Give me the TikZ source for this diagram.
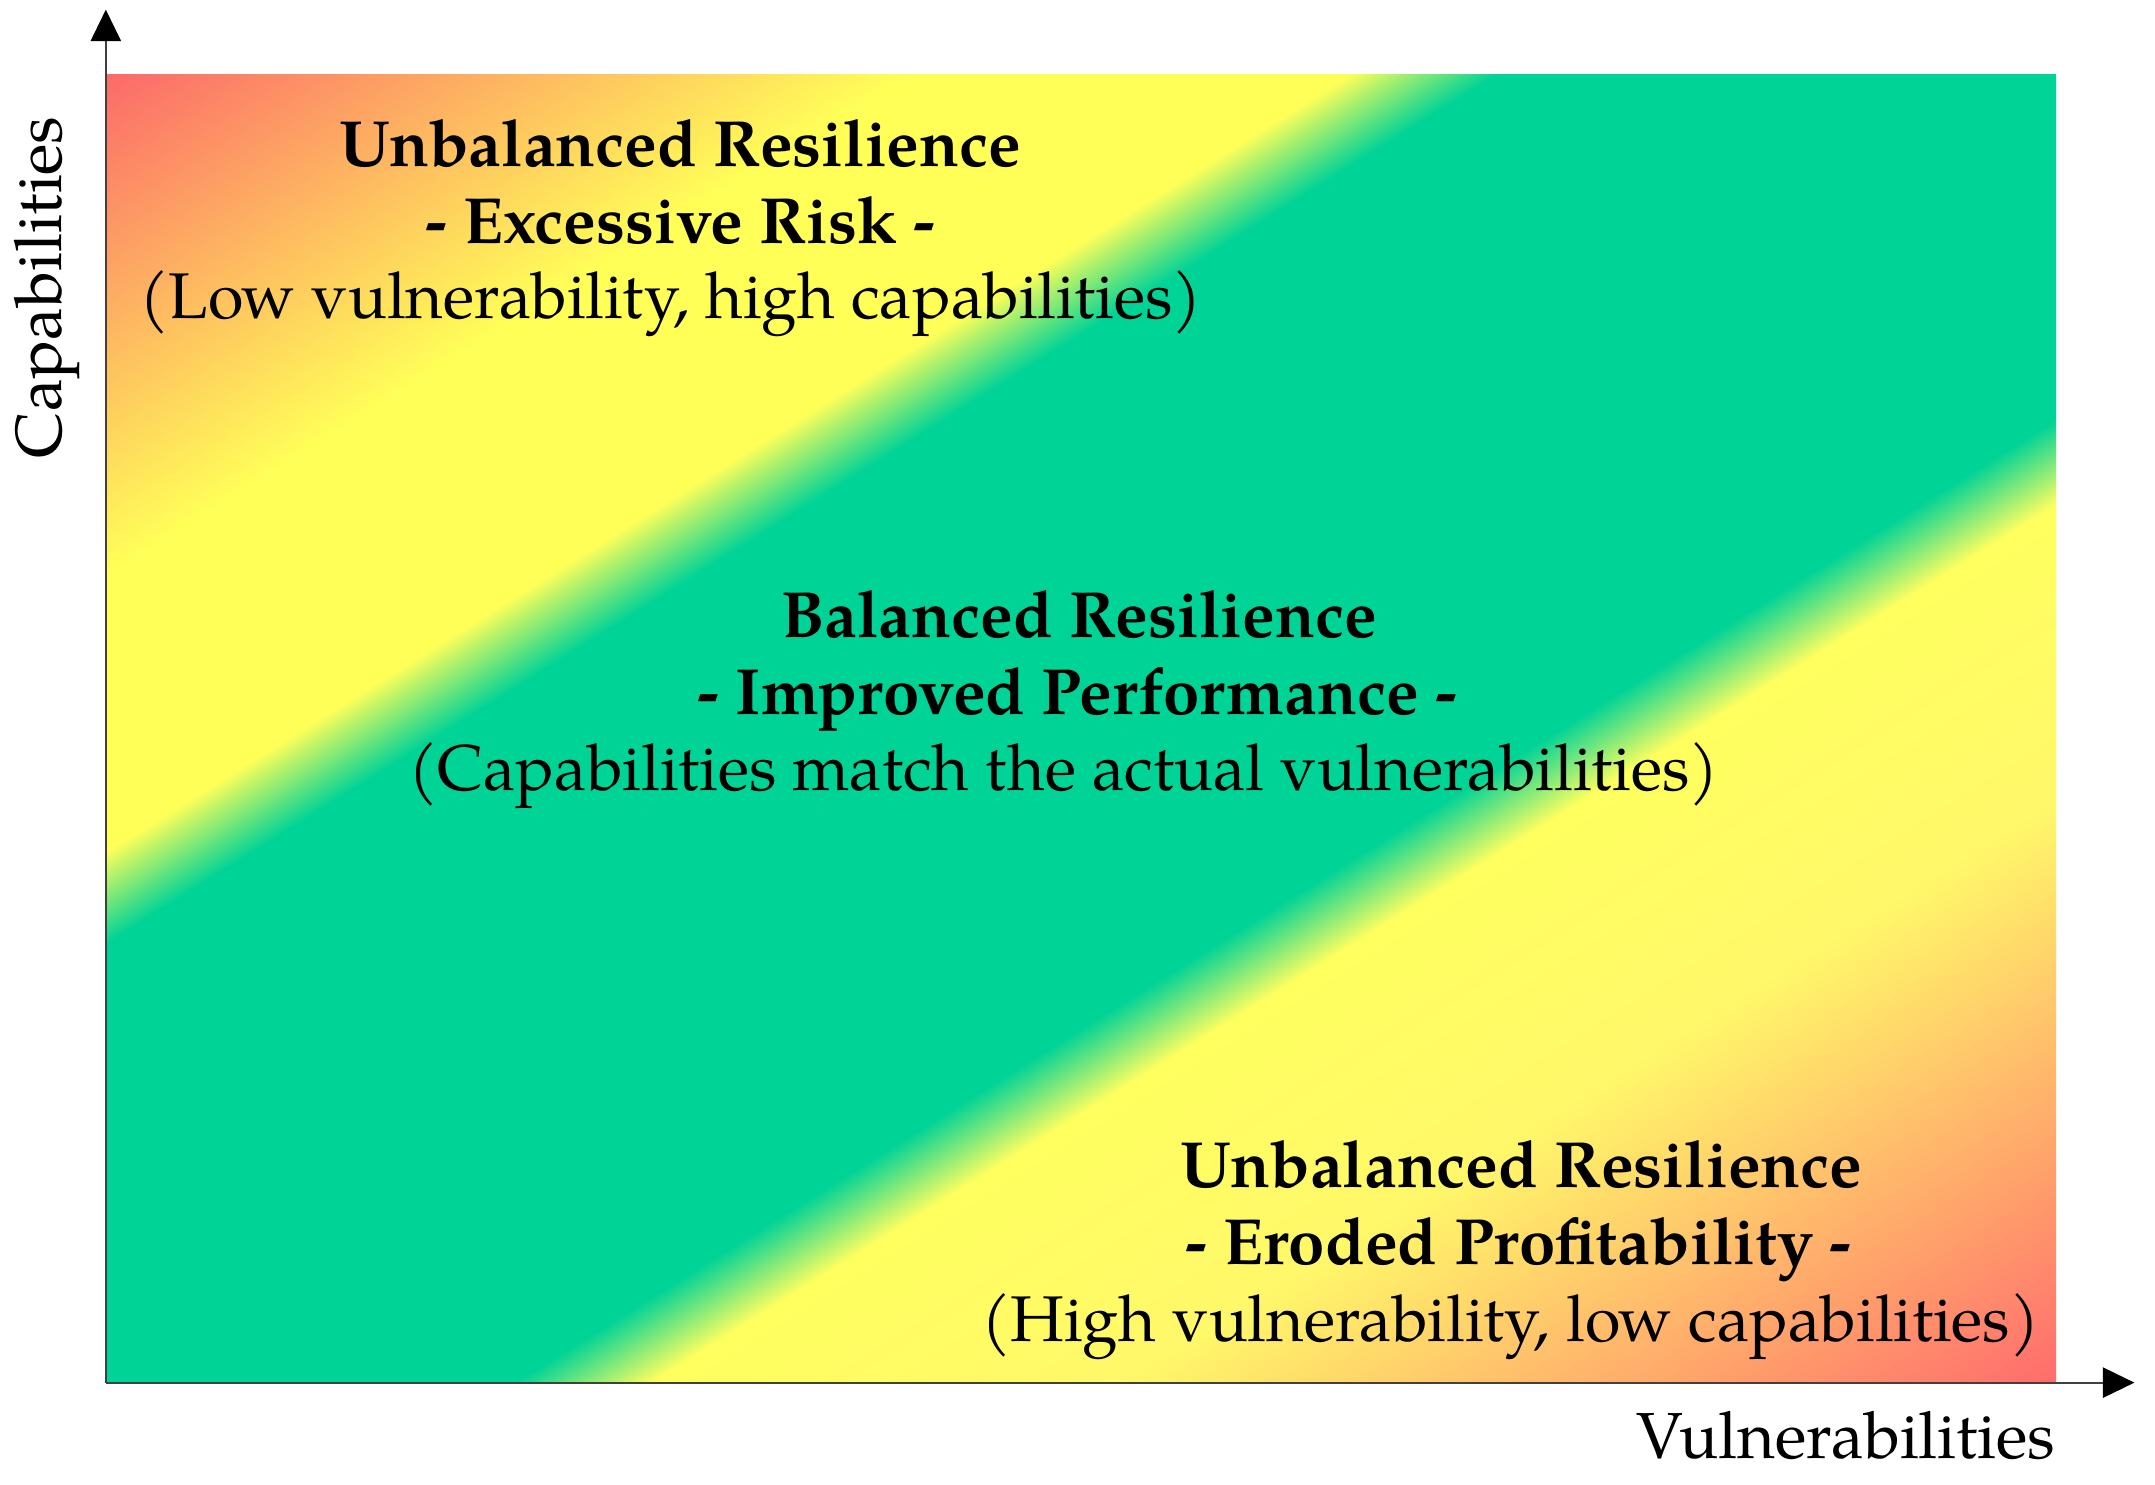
\documentclass[tikz,border=0pt]{standalone}
\usepackage{fontspec}
\setmainfont{TeX Gyre Pagella}
\usetikzlibrary{arrows.meta}
\definecolor{cRed}{RGB}{252,106,106}
\definecolor{cRedB}{RGB}{255,108,108}
\definecolor{cYel}{RGB}{255,255,88}
\definecolor{cYelB}{RGB}{255,255,95}
\definecolor{cYelC}{RGB}{255,248,106}
\definecolor{cGrn}{RGB}{0,211,150}
\definecolor{axisgray}{RGB}{64,64,64}
\pgfdeclarehorizontalshading{bands}{1800pt}{color(0pt)=(cRed); color(121pt)=(cRed); color(430pt)=(cYel); color(600pt)=(cYel); color(657pt)=(cGrn); color(1085pt)=(cGrn); color(1138pt)=(cYelB); color(1320pt)=(cYelC); color(1679pt)=(cRedB); color(1800pt)=(cRedB)}
\tikzset{
  txt/.style={inner sep=0pt, anchor=base, font=\fontsize{47}{56}\selectfont},
  btxt/.style={txt, font=\fontsize{47.5}{56}\selectfont\bfseries},
  axlab/.style={txt, font=\fontsize{47.4}{56}\selectfont},
  axisline/.style={draw=axisgray, line width=1.6pt, -{Triangle[length=23pt,width=22pt,color=black]}}
}
\begin{document}
\begin{tikzpicture}[x=1pt,y=-1pt]
\useasboundingbox (0,0) rectangle (1568,1080);
\fill[white] (0,0) rectangle (1568,1080);
\begin{scope}
  \clip (77,54) rectangle (1496,1006);
  \node[inner sep=0pt, outer sep=0pt, rotate=-58] (bg) at (786.5,530) {\pgfuseshading{bands}};
\end{scope}
\coordinate (O) at (77,1006);
\coordinate (ytip) at (77,7);
\coordinate (xtip) at (1553,1006);
\draw[axisline] (O) -- (ytip);
\draw[axisline] (O) -- (xtip);
% top-left block
\node[btxt] (t1a) at (495,121) {Unbalanced Resilience};
\node[btxt] (t1b) at (495,177) {- Excessive Risk -};
\node[txt]  (t1c) at (488,232) {(Low vulnerability, high capabilities)};
% middle block
\node[btxt] (t2a) at (785,464) {Balanced Resilience};
\node[btxt] (t2b) at (784,520) {- Improved Performance -};
\node[txt]  (t2c) at (774,575) {(Capabilities match the actual vulnerabilities)};
% bottom-right block
\node[btxt] (t3a) at (1107,864) {Unbalanced Resilience};
\node[btxt] (t3b) at (1105,920) {- Eroded Profitability -};
\node[txt]  (t3c) at (1099,976) {(High vulnerability, low capabilities)};
% axis labels
\node[axlab, rotate=90] (ylab) at (45,209) {Capabilities};
\node[axlab] (xlab) at (1343,1061) {Vulnerabilities};
\end{tikzpicture}
\end{document}
